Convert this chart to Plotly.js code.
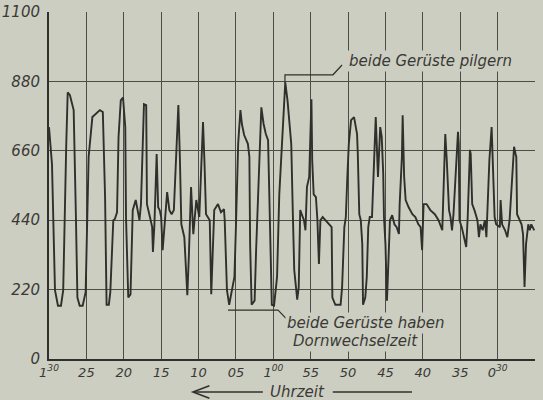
<!DOCTYPE html>
<html>
<head>
<meta charset="utf-8">
<script src="https://cdn.plot.ly/plotly-3.0.1.min.js"></script>
<style>html,body{margin:0;padding:0;background:#cdcec2;}#chart{width:543px;height:400px;}</style>
</head>
<body>
<div id="chart"></div>
<script>
// time axis: minutes after 0:00 (axis runs backwards, 1:30 at left, 0:25 at right)
const minutes = [90.0,89.6,89.2,88.8,88.4,88.1,87.7,87.5,87.2,86.9,86.7,86.4,86.2,85.9,85.5,85.1,84.7,84.2,83.8,83.2,82.8,82.5,82.3,82.0,81.8,81.4,81.2,80.9,80.7,80.4,80.1,79.8,79.7,
79.4,79.1,78.8,78.4,77.9,77.7,77.3,77.0,76.9,76.5,76.2,76.1,75.9,75.6,75.4,75.2,75.0,74.8,74.5,74.2,73.9,73.6,73.3,73.0,72.7,72.5,72.3,71.9,71.5,71.3,71.0,70.7,70.3,69.9,69.6,69.4,69.2,69.0,68.5,68.3,
67.9,67.4,67.0,66.6,66.5,66.2,65.9,65.6,65.2,65.0,64.7,64.4,64.2,63.9,63.4,63.2,63.1,62.9,62.5,62.3,61.9,61.6,61.3,61.0,60.7,60.4,60.2,59.9,59.5,59.2,58.7,58.4,58.1,57.6,57.4,57.2,
56.8,56.6,56.4,56.1,55.9,55.7,55.5,55.2,55.1,54.9,54.8,54.6,54.3,54.1,53.9,53.7,53.4,53.0,52.6,52.2,52.1,51.7,51.0,50.8,50.5,50.3,50.1,49.9,49.6,49.2,48.8,48.7,48.5,48.3,48.1,48.0,47.7,47.5,47.3,47.1,46.8,46.5,46.3,
46.0,45.7,45.5,45.3,45.2,45.0,44.8,44.6,44.4,44.1,43.8,43.5,43.2,43.1,42.8,42.7,42.5,42.3,41.9,41.4,41.0,40.6,40.3,40.1,39.9,39.5,39.0,38.4,37.9,37.4,37.2,37.0,36.8,36.5,36.3,36.1,35.9,35.7,35.3,
35.2,35.1,34.8,34.5,34.2,34.0,33.7,33.6,33.4,33.1,32.7,32.5,32.3,32.0,31.7,31.5,31.3,31.1,30.8,30.6,30.4,30.2,29.7,29.6,29.4,29.0,28.7,28.4,28.1,27.8,27.6,27.5,27.4,27.1,26.8,26.6,26.4,26.2,25.9,25.7,25.5,25.1];

const power = [735,618,218,169,169,218,673,845,836,808,789,450,195,169,169,212,641,767,776,789,783,513,172,172,212,440,443,465,704,820,829,735,450,
195,205,472,504,440,491,808,805,491,450,418,339,427,650,481,472,450,345,440,529,472,459,472,631,805,641,427,386,202,323,545,396,504,450,641,751,618,459,440,205,
472,491,465,475,440,218,172,205,260,418,682,789,745,710,682,641,364,172,185,345,631,798,745,713,694,364,172,169,260,522,767,877,820,682,472,282,
188,228,472,450,440,408,545,577,682,823,631,522,513,440,301,440,450,440,427,418,195,172,172,228,418,450,577,682,757,767,713,650,459,440,364,172,195,260,418,450,450,673,767,
577,735,704,587,450,364,185,323,440,456,427,418,396,491,641,773,577,504,481,459,450,427,418,345,491,491,472,459,440,408,545,713,631,472,450,408,459,545,720,
682,440,418,386,355,450,663,650,491,472,440,386,427,408,440,386,491,631,735,577,450,427,418,504,427,408,386,440,577,673,650,641,459,440,427,396,228,364,427,408,427,408];

const yTickVals = [0,220,440,660,880,1100];
const yTickText = ['0','220','440','660','880','1100'];
const xTickVals = [90,85,80,75,70,65,60,55,50,45,40,35,30,25];
const xTickText = ['1<sup>30</sup>','25','20','15','10','05','1<sup>00</sup>','55','50','45','40','35','0<sup>30</sup>','25'];

const bg = '#cdcec2';
const ink = '#2f302b';
const grid = '#4c4d46';
const txt = '#393a35';
const fontFam = 'DejaVu Sans, Liberation Sans, sans-serif';

const trace = {
  x: minutes, y: power, type: 'scatter', mode: 'lines',
  line: {color: ink, width: 1.9}, hoverinfo: 'skip'
};

const arrowY = -0.0950;
const layout = {
  width: 543, height: 400,
  margin: {l: 49, r: 8, t: 12, b: 41},
  paper_bgcolor: bg, plot_bgcolor: bg,
  showlegend: false,
  font: {family: fontFam, color: txt},
  xaxis: {
    range: [90, 25], tickmode: 'array', tickvals: xTickVals, ticktext: xTickText,
    showgrid: true, gridcolor: grid, gridwidth: 1,
    showline: true, linecolor: ink, linewidth: 2, mirror: false,
    zeroline: false, ticks: '', ticklabelstandoff: 0,
    tickfont: {size: 13, style: 'italic', color: txt}
  },
  yaxis: {
    range: [0, 1100], tickmode: 'array', tickvals: yTickVals, ticktext: yTickText,
    showgrid: true, gridcolor: grid, gridwidth: 1,
    showline: true, linecolor: ink, linewidth: 2, mirror: false,
    zeroline: false, ticks: '', ticklabelstandoff: 4,
    tickfont: {size: 15, style: 'italic', color: txt}
  },
  shapes: [
    {type: 'path', xref: 'x', yref: 'y', path: 'M58.44,874 L58.44,901 L52.02,901 L50.81,932', line: {color: ink, width: 1.2}},
    {type: 'path', xref: 'x', yref: 'y', path: 'M66.06,155 L59.37,155 L58.3,129', line: {color: ink, width: 1.2}},
    {type: 'line', xref: 'paper', yref: 'paper', x0: 0.298, x1: 0.440, y0: arrowY, y1: arrowY, line: {color: ink, width: 1.5}},
    {type: 'path', xref: 'paper', yref: 'paper', path: 'M0.330,' + (arrowY + 0.018) + ' L0.296,' + arrowY + ' L0.330,' + (arrowY - 0.018), line: {color: ink, width: 1.5}},
    {type: 'line', xref: 'paper', yref: 'paper', x0: 0.584, x1: 0.747, y0: arrowY, y1: arrowY, line: {color: ink, width: 1.5}}
  ],
  annotations: [
    {xref: 'x', yref: 'y', x: 50.15, y: 944, xanchor: 'left', yanchor: 'middle', showarrow: false,
     text: 'beide Gerüste pilgern', bgcolor: bg, borderpad: 1,
     font: {size: 15, style: 'italic', color: txt}},
    {xref: 'x', yref: 'y', x: 58.4, y: 113, xanchor: 'left', yanchor: 'middle', showarrow: false,
     text: 'beide Gerüste haben', bgcolor: bg, borderpad: 1,
     font: {size: 15, style: 'italic', color: txt}},
    {xref: 'x', yref: 'y', x: 57.6, y: 58, xanchor: 'left', yanchor: 'middle', showarrow: false,
     text: 'Dornwechselzeit', bgcolor: bg, borderpad: 1,
     font: {size: 15, style: 'italic', color: txt}},
    {xref: 'paper', yref: 'paper', x: 0.512, y: arrowY, xanchor: 'center', yanchor: 'middle', showarrow: false,
     text: 'Uhrzeit', font: {size: 15, style: 'italic', color: txt}}
  ]
};

Plotly.newPlot('chart', [trace], layout, {displayModeBar: false, staticPlot: true});
</script>
</body>
</html>
